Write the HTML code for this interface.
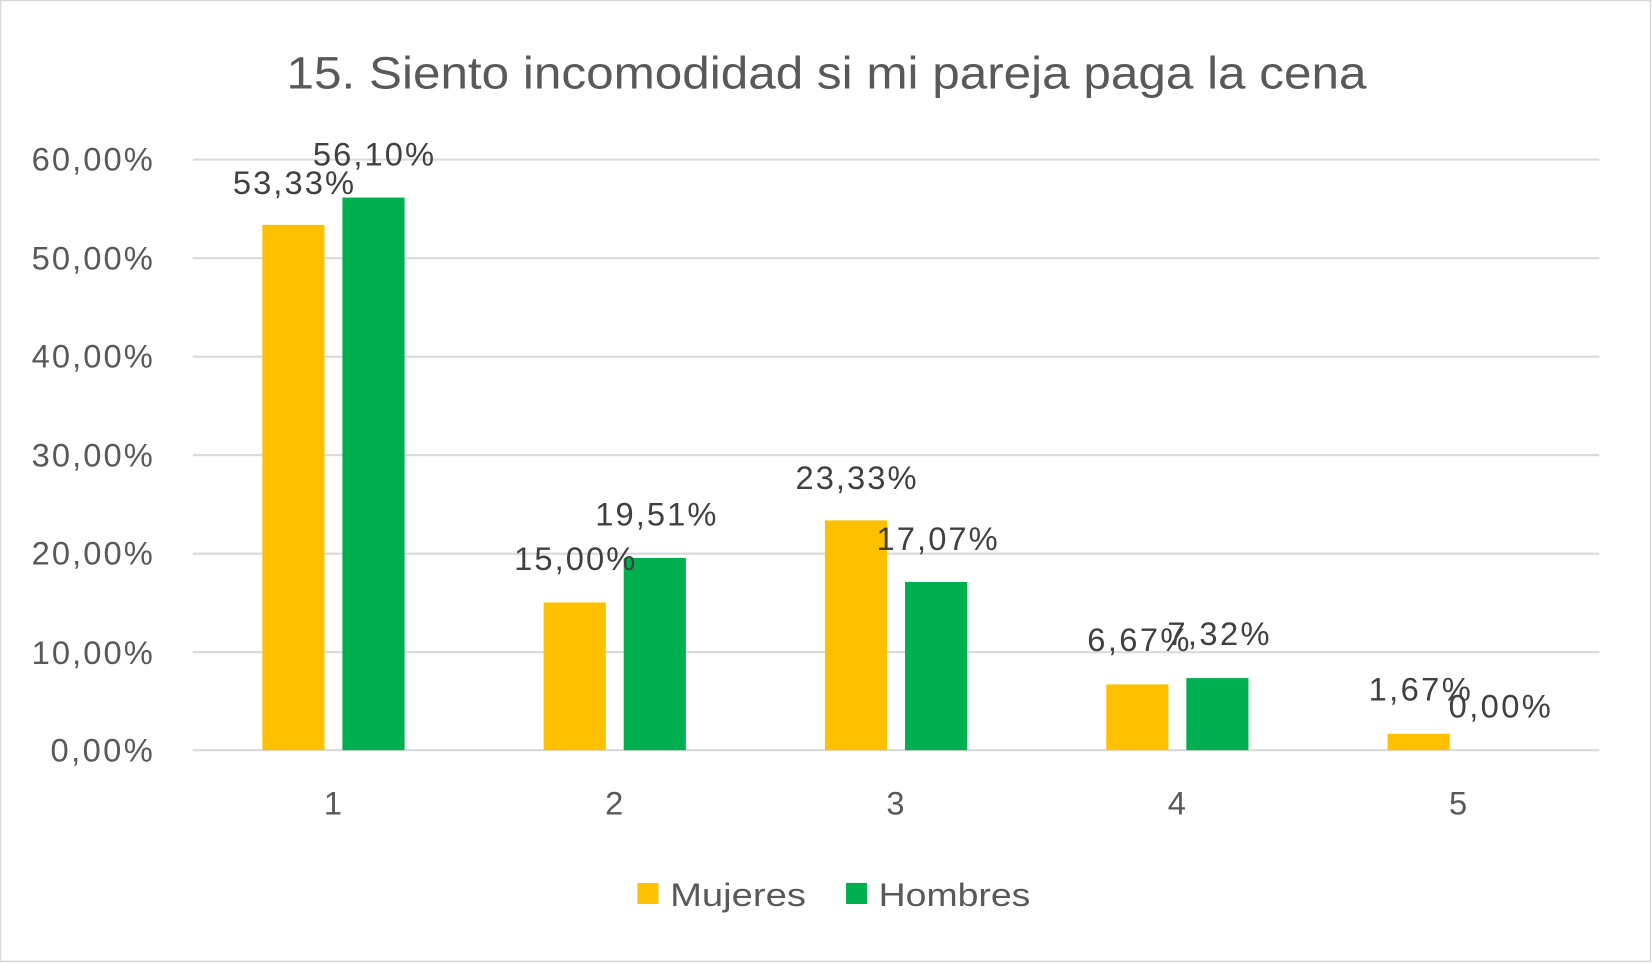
<!DOCTYPE html>
<html><head><meta charset="utf-8"><style>
html,body{margin:0;padding:0;background:#fff}
svg{display:block}
text{font-family:"Liberation Sans",sans-serif}
</style></head><body>
<svg width="1652" height="963" viewBox="0 0 1568 914" preserveAspectRatio="none" xmlns="http://www.w3.org/2000/svg">
<rect x="0.5" y="0.5" width="1566" height="912" fill="#fff" stroke="#d9d9d9" stroke-width="1.5"/>
<text x="272" y="84" font-size="43" fill="#595959" textLength="1025" lengthAdjust="spacingAndGlyphs">15. Siento incomodidad si mi pareja paga la cena</text>
<g stroke="#d9d9d9" stroke-width="2">
<line x1="183" x2="1518" y1="151.5" y2="151.5"/>
<line x1="183" x2="1518" y1="245" y2="245"/>
<line x1="183" x2="1518" y1="338.5" y2="338.5"/>
<line x1="183" x2="1518" y1="432" y2="432"/>
<line x1="183" x2="1518" y1="525.5" y2="525.5"/>
<line x1="183" x2="1518" y1="619" y2="619"/>
<line x1="183" x2="1518" y1="712" y2="712"/>
</g>
<g font-size="31" fill="#595959" lengthAdjust="spacingAndGlyphs">
<text x="30" y="162" textLength="115">60,00%</text>
<text x="30" y="256" textLength="115">50,00%</text>
<text x="30" y="349" textLength="115">40,00%</text>
<text x="30" y="443" textLength="115">30,00%</text>
<text x="30" y="536" textLength="115">20,00%</text>
<text x="30" y="630" textLength="115">10,00%</text>
<text x="48" y="723" textLength="97">0,00%</text>
</g>
<g fill="#ffc000">
<rect x="249" y="213.4" width="59" height="498.6"/>
<rect x="516" y="571.8" width="59" height="140.2"/>
<rect x="783" y="493.9" width="59" height="218.1"/>
<rect x="1050" y="649.6" width="59" height="62.4"/>
<rect x="1317" y="696.4" width="59" height="15.6"/>
</g>
<g fill="#00b050">
<rect x="325" y="187.5" width="59" height="524.5"/>
<rect x="592" y="529.6" width="59" height="182.4"/>
<rect x="859" y="552.4" width="59" height="159.6"/>
<rect x="1126" y="643.6" width="59" height="68.4"/>
</g>
<g font-size="31" fill="#404040" lengthAdjust="spacingAndGlyphs">
<text x="221" y="184" textLength="115">53,33%</text>
<text x="297" y="157" textLength="115">56,10%</text>
<text x="488" y="541" textLength="115">15,00%</text>
<text x="565" y="499" textLength="115">19,51%</text>
<text x="755" y="464" textLength="115">23,33%</text>
<text x="832" y="522" textLength="115">17,07%</text>
<text x="1032" y="618" textLength="97">6,67%</text>
<text x="1108" y="612" textLength="97">7,32%</text>
<text x="1299" y="665" textLength="97">1,67%</text>
<text x="1375" y="681" textLength="97">0,00%</text>
</g>
<g font-size="31" fill="#595959" text-anchor="middle">
<text x="316" y="773">1</text>
<text x="583" y="773">2</text>
<text x="850" y="773">3</text>
<text x="1117" y="773">4</text>
<text x="1384" y="773">5</text>
</g>
<rect x="605" y="838" width="20" height="20" fill="#ffc000"/>
<text x="636" y="860" font-size="31" fill="#595959" textLength="129" lengthAdjust="spacingAndGlyphs">Mujeres</text>
<rect x="803" y="838" width="20" height="20" fill="#00b050"/>
<text x="834" y="860" font-size="31" fill="#595959" textLength="144" lengthAdjust="spacingAndGlyphs">Hombres</text>
</svg>
</body></html>
